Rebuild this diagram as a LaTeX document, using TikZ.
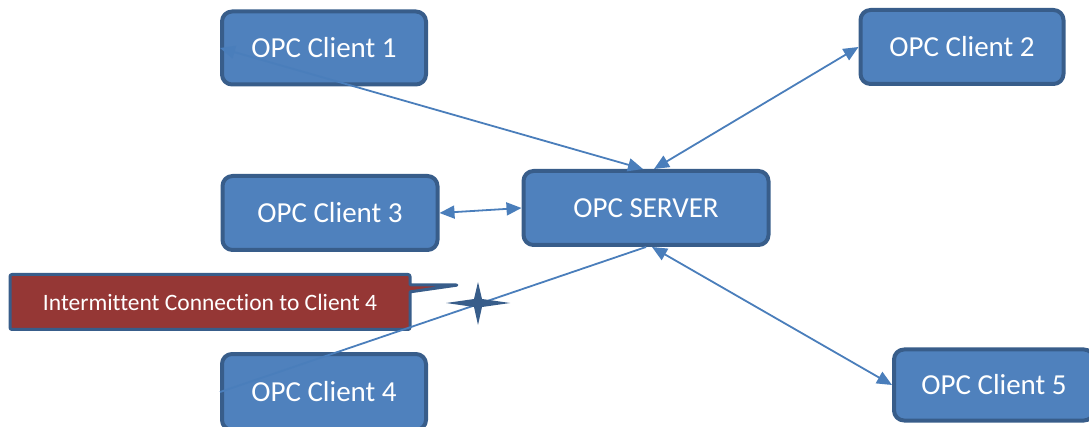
\documentclass[tikz,border=0pt]{standalone}
\usepackage{fontspec}
\setmainfont{Carlito}[Ligatures=NoCommon]
\usetikzlibrary{arrows.meta,shapes.callouts}
\definecolor{BoxFill}{HTML}{4F81BD}
\definecolor{BoxLine}{HTML}{385D8A}
\definecolor{LinkLine}{HTML}{4A7EBB}
\definecolor{NoteFill}{HTML}{953735}
\tikzset{
  opcbox/.style={draw=BoxLine,fill=BoxFill,line width=4pt,rounded corners=10pt,
    text=white,font=\fontsize{29}{32}\selectfont,inner sep=0pt},
  link/.style={draw=LinkLine,line width=1.8pt},
}
\begin{document}
\begin{tikzpicture}[x=1pt,y=-1pt,line join=round,
  >={Triangle[length=15pt,width=13pt]}]
  \useasboundingbox (0,0) rectangle (1089,427);
  % clients and server
  \node[opcbox,minimum width=204pt,minimum height=73pt] (c1) at (324,48) {OPC Client 1};
  \node[opcbox,minimum width=203pt,minimum height=74pt] (c2) at (962,47) {OPC Client 2};
  \node[opcbox,minimum width=215pt,minimum height=74pt] (c3) at (330,213) {OPC Client 3};
  \node[opcbox,minimum width=245pt,minimum height=74pt] (srv) at (646,208) {OPC SERVER};
  \node[opcbox,minimum width=204pt,minimum height=76pt] (c4) at (324,392) {OPC Client 4};
  \node[opcbox,minimum width=200pt,minimum height=71pt] (c5) at (994,385) {OPC Client 5};
  % note
  \node[rectangle callout,draw=BoxLine,fill=NoteFill,line width=3pt,rounded corners=2pt,
    minimum width=400pt,minimum height=55pt,text=white,
    font=\fontsize{23.5}{26}\selectfont,
    callout absolute pointer={(458,285)}] (note) at (210,302)
    {Intermittent Connection to Client 4\hspace{12pt}};
  % connections
  \draw[link,<->] (c1.west) -- ([xshift=-3pt]srv.north);
  \draw[link,<->] ([xshift=8pt]srv.north) -- (c2.west);
  \draw[link,<->] (c3.east) -- (srv.west);
  \draw[link] (c4.west) -- (srv.south);
  \draw[link,<->] ([xshift=6pt]srv.south) -- (c5.west);
  % break mark
  \fill[BoxLine] (446,303) -- (474,299) -- (478,282) -- (482,299) -- (510,303)
    -- (482,307) -- (478,325) -- (474,307) -- cycle;
\end{tikzpicture}
\end{document}
